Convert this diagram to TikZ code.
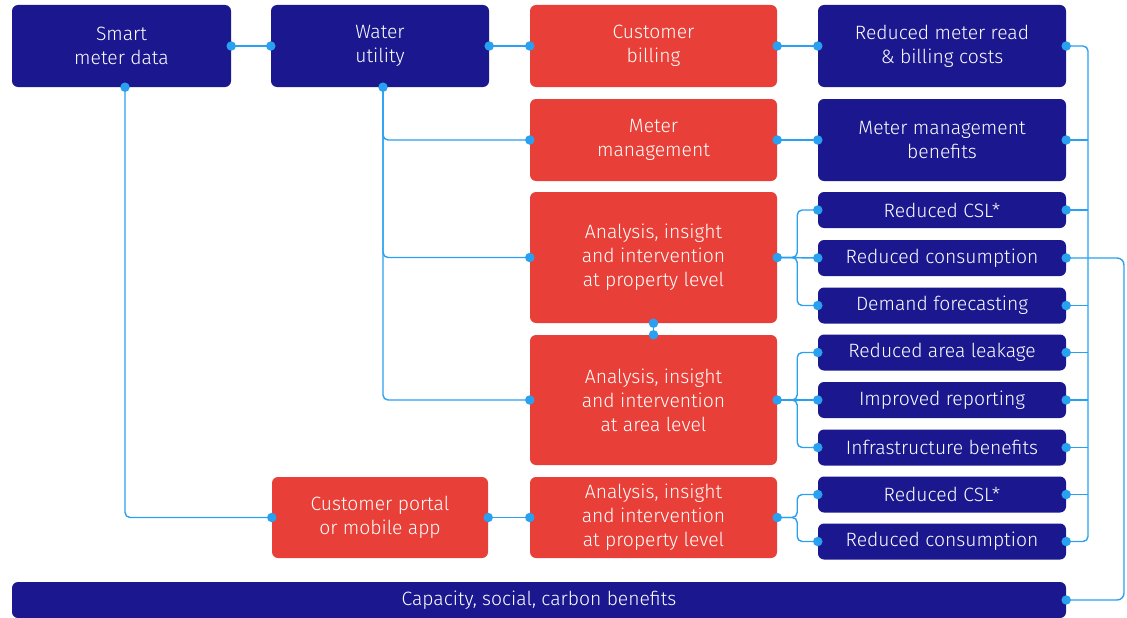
\documentclass[tikz,border=0pt]{standalone}
\usepackage{fontspec}
\setmainfont{Fira Sans Light}
\usetikzlibrary{calc}
\definecolor{navy}{RGB}{27,24,143}
\definecolor{brick}{RGB}{232,64,56}
\definecolor{wire}{RGB}{42,160,240}
\begin{document}
\begin{tikzpicture}[x=1pt,y=-1pt,
  box/.style={rounded corners=6pt, inner sep=0pt, align=center, text=white,
    font=\fontsize{19.3}{24}\selectfont},
  nbox/.style={box, fill=navy},
  rbox/.style={box, fill=brick},
  wd/.style={minimum width=#1pt},
  ht/.style={minimum height=#1pt},
  link/.style={draw=wire, line width=1.4pt, rounded corners=5pt},
  dot/.style={circle, fill=wire, inner sep=0pt, minimum size=9.5pt}]
\useasboundingbox (0,0) rectangle (1127,618);

% source boxes
\node[nbox, wd=219, ht=82] (smd) at (121.5,46) {Smart\\meter data};
\node[nbox, wd=218, ht=82] (wu) at (380,46) {Water\\utility};
\node[rbox, wd=216, ht=81] (cp) at (380,517.5) {Customer portal\\or mobile app};

% activities
\node[rbox, wd=247, ht=82] (cb) at (653.5,46) {Customer\\billing};
\node[rbox, wd=247, ht=82] (mm) at (653.5,140) {Meter\\management};
\node[rbox, wd=247, ht=131] (ap) at (653.5,257.5) {Analysis, insight\\and intervention\\at property level};
\node[rbox, wd=247, ht=130] (aa) at (653.5,400) {Analysis, insight\\and intervention\\at area level};
\node[rbox, wd=247, ht=81] (ap2) at (653.5,517.5) {Analysis, insight\\and intervention\\at property level};

% benefits
\node[nbox, wd=248, ht=82] (rm) at (942,46) {Reduced meter read\\\& billing costs};
\node[nbox, wd=248, ht=82] (mmb) at (942,140) {Meter management\\benefits};
\node[nbox, wd=248, ht=36] (csl) at (942,210) {Reduced CSL*};
\node[nbox, wd=248, ht=36] (rc) at (942,258) {Reduced consumption};
\node[nbox, wd=248, ht=36] (df) at (942,305.5) {Demand forecasting};
\node[nbox, wd=248, ht=36] (ral) at (942,352.5) {Reduced area leakage};
\node[nbox, wd=248, ht=36] (ir) at (942,400) {Improved reporting};
\node[nbox, wd=248, ht=36] (ib) at (942,447.5) {Infrastructure benefits};
\node[nbox, wd=248, ht=36] (csl2) at (942,494.5) {Reduced CSL*};
\node[nbox, wd=248, ht=36] (rc2) at (942,541.5) {Reduced consumption};
\node[nbox, wd=1054, ht=36] (cap) at (539,600) {Capacity, social, carbon benefits};

% taps below the two source boxes
\coordinate (wtap) at ([xshift=3pt]wu.south);
\coordinate (stap) at ([xshift=3.5pt]smd.south);

% data flow
\draw[link] (smd.east) -- (wu.west);
\draw[link] (wu.east) -- (cb.west);
\draw[link] (cb.east) -- (rm.west);
\draw[link] (mm.east) -- (mmb.west);
\draw[link] (wtap) |- (mm.west);
\draw[link] (wtap) |- (ap.west);
\draw[link] (wtap) |- (aa.west);
\draw[link] (stap) |- (cp.west);
\draw[link] (cp.east) -- (ap2.west);
\draw[link] (ap.south) -- (aa.north);

% fan-out brackets
\coordinate (fa) at ($(ap.east)+(20,0)$);
\draw[link] (ap.east) -- (fa) |- (csl.west);
\draw[link] (ap.east) -- (fa) |- (df.west);
\draw[link] (ap.east) -- (rc.west);
\coordinate (fb) at ($(aa.east)+(20,0)$);
\draw[link] (aa.east) -- (fb) |- (ral.west);
\draw[link] (aa.east) -- (fb) |- (ib.west);
\draw[link] (aa.east) -- (ir.west);
\coordinate (fc) at ($(ap2.east)+(20,0)$);
\draw[link] (ap2.east) -- (fc) |- (csl2.west);
\draw[link] (ap2.east) -- (fc) |- (rc2.west);

% benefit collector
\coordinate (bus) at (1088,0);
\draw[link] (rm.east) -| (bus |- rc2.east) -- (rc2.east);
\foreach \b in {mmb,csl,df,ral,ir,ib,csl2}
  \draw[link] (\b.east) -- (bus |- \b.east);
\coordinate (turn) at (1124,0);
\draw[link, rounded corners=7pt] (rc.east) -- (turn |- rc.east) |- (cap.east);

% connection dots
\foreach \p in {smd.east, wu.west, wu.east, cb.west, cb.east, rm.west,
  mm.east, mmb.west, wtap, stap, mm.west, ap.west, aa.west, cp.west,
  cp.east, ap2.west, ap.south, aa.north, ap.east, aa.east, ap2.east,
  csl.west, rc.west, df.west, ral.west, ir.west, ib.west, csl2.west, rc2.west,
  rm.east, mmb.east, csl.east, rc.east, df.east, ral.east, ir.east, ib.east,
  csl2.east, rc2.east, cap.east}
  \node[dot] at (\p) {};
\end{tikzpicture}
\end{document}
